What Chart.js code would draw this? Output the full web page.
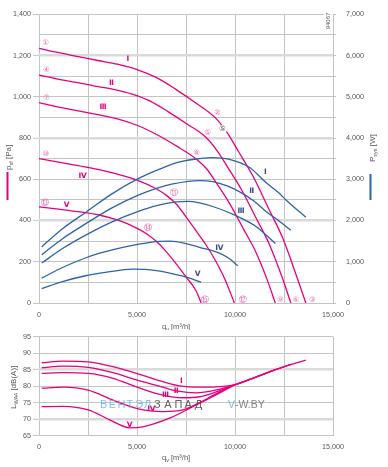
<!DOCTYPE html>
<html>
<head>
<meta charset="utf-8">
<script src="https://cdn.jsdelivr.net/npm/chart.js@4"></script>
<style>
  html, body { margin: 0; padding: 0; background: #fff; }
  #wrap { position: relative; width: 388px; height: 467px; }
  #top { position: absolute; left: 0; top: 0; }
  #bot { position: absolute; left: 0; top: 330px; }
</style>
</head>
<body>
<div id="wrap">
  <canvas id="top" width="388" height="330"></canvas>
  <canvas id="bot" width="388" height="137"></canvas>
</div>
<script>
// fan pressure curves p_sf [Pa] over q_v [m3/h]
const pressI = [[0,1235],[1000,1214],[2000,1195],[3000,1176],[4000,1158],[5000,1132],[6000,1093],[7000,1035],[8000,970],[9000,898],[9600,826],[10200,731],[10900,618],[11750,451],[12430,316],[13100,142],[13615,0]];
const pressII = [[0,1105],[950,1086],[1900,1070],[2850,1052],[3800,1036],[4750,1013],[5700,978],[6600,927],[7550,868],[8500,805],[9100,737],[9670,652],[10310,553],[11120,404],[11760,283],[12400,126],[12850,0]];
const pressIII = [[0,972],[1000,950],[2000,932],[3000,914],[4000,893],[5000,862],[6000,817],[7000,762],[8000,700],[8550,651],[9090,576],[9690,488],[10450,356],[11050,250],[11650,111],[12055,0]];
const pressIV = [[0,700],[1000,683],[2000,666],[3000,648],[4000,625],[5000,596],[6000,553],[6500,522],[7000,480],[7500,418],[8000,352],[8500,285],[9000,206],[9500,112],[9970,0]];
const pressV = [[0,466],[1000,455],[2000,443],[3000,428],[4000,403],[4500,385],[5000,362],[5500,335],[6000,298],[6500,248],[7000,190],[7500,127],[8000,62],[8275,0]];

// system power P_sys [W]
const powI = [[140,1365],[1200,1800],[2430,2214],[3700,2640],[5035,3008],[6150,3246],[7170,3420],[8190,3500],[8870,3524],[9710,3484],[10730,3290],[11580,2920],[12260,2660],[12600,2500],[13615,2079]];
const powII = [[140,1167],[1200,1560],[2430,1936],[3700,2300],[5035,2612],[6000,2780],[6830,2888],[8190,2969],[8870,2945],[9600,2840],[10220,2700],[11000,2460],[11580,2220],[12250,1990],[12850,1762]];
const powIII = [[140,969],[1200,1320],[2430,1659],[3700,1960],[5035,2214],[6000,2360],[7000,2450],[7600,2465],[8190,2430],[8870,2340],[9970,2135],[11070,1857],[12055,1445]];
const powIV = [[140,603],[1200,860],[2430,1103],[3100,1207],[4000,1320],[5035,1421],[6000,1490],[6700,1500],[7500,1440],[8190,1350],[9200,1210],[9700,1080],[10140,905]];
const powV = [[140,349],[1200,520],[2430,667],[3100,722],[4000,785],[4800,822],[5400,815],[6000,785],[6500,745],[7340,650],[8275,507]];

// sound power L_WA4 [dB(A)]
const noiseI = [[140,87.1],[1240,87.6],[2510,87.4],[3780,85.9],[4970,83.9],[6320,81.4],[7170,80.1],[8190,79.7],[9000,79.8],[9970,80.4],[11000,82.6],[12000,84.9],[12430,85.8],[13615,87.9]];
const noiseII = [[140,85.6],[1240,86.1],[2510,85.7],[3780,84.1],[4970,81.9],[6320,79.7],[7090,78.5],[8020,78.0],[9000,78.8],[9970,80.4],[11000,82.6],[12000,84.9],[12850,86.6]];
const noiseIII = [[140,83.9],[1240,84.1],[2510,83.9],[3780,82.4],[4970,79.8],[6320,77.3],[7340,76.5],[8190,76.8],[9000,78.2],[9970,80.4],[11000,82.6],[12055,85.0]];
const noiseIV = [[140,79.4],[1240,79.7],[2510,78.8],[3780,75.8],[4970,73.3],[6320,72.3],[7340,72.8],[8190,75.0],[9000,77.6],[9970,80.4]];
const noiseV = [[140,73.8],[1240,73.9],[2510,72.8],[3610,69.8],[4630,67.4],[5300,67.7],[6660,70.3],[8020,74.3],[9000,77.3],[9970,80.4]];

// heavier grid lines
const thickPress = [400, 800, 1200];
const thickNoise = [70, 85];

// annotations: [text, q, value]
const circledMarks = [["①",340,1263],["④",370,1130],["⑦",370,994],["⑩",355,720],["⑬",290,487],
  ["②",9100,919],["⑤",8600,824],["⑧",8040,729],["⑪",6870,533],["⑭",5560,363],
  ["⑮",8490,14],["⑫",10390,14],["⑨",12310,14],["⑥",13110,14],["③",13950,14]];
const pressNames = [["Ⅰ",4540,1181],["Ⅱ",3700,1067],["Ⅲ",3270,948],["Ⅳ",2220,618],["Ⅴ",1410,475]];
const powNames = [["Ⅰ",11545,3183],["Ⅱ",10850,2707],["Ⅲ",10310,2231],["Ⅳ",9206,1333],["Ⅴ",8100,707]];
const noiseNames = [["Ⅰ",7260,81.7],["Ⅱ",7000,78.6],["Ⅲ",6460,77.3],["Ⅳ",5730,73.1],["Ⅴ",4630,68.2]];

const pink = "#e6007e";
const blue = "#2f62ad";
const grey = "#555";
const gridThin = "#c4c4c4";
const gridThick = "#dadada";
const tickFont = { family: "Liberation Sans", size: 7.2 };
const fam = '"Liberation Sans", Arial, sans-serif';

function fmt(v) { return v.toLocaleString("en-US"); }

function line(arr, axis, color) {
  return {
    data: arr.map(([x, y]) => ({ x, y })),
    yAxisID: axis,
    borderColor: color,
    borderWidth: 1.3,
    pointRadius: 0,
    fill: false,
    cubicInterpolationMode: "monotone"
  };
}

// text with a subscript part, optionally rotated
function subText(ctx, parts, x, y, angle) {
  ctx.save();
  ctx.translate(x, y);
  ctx.rotate(angle);
  ctx.textAlign = "left";
  ctx.textBaseline = "alphabetic";
  let cx = 0;
  parts.forEach(([t, size, dy]) => {
    ctx.font = size + "px " + fam;
    ctx.fillText(t, cx, dy);
    cx += ctx.measureText(t).width;
  });
  ctx.restore();
}

function xAxis(h, pad) {
  return {
    type: "linear", min: 0, max: 15000,
    afterFit: (s) => { s.height = h; },
    ticks: { stepSize: 2500, autoSkip: false, maxRotation: 0, padding: pad, font: tickFont, color: grey,
      callback: (v) => (v % 5000 === 0 ? fmt(v) : "") },
    grid: { color: gridThin, lineWidth: 1, drawTicks: false },
    border: { display: false }
  };
}

const common = {
  animation: false,
  responsive: false,
  maintainAspectRatio: false,
  events: [],
  plugins: { legend: { display: false }, tooltip: { enabled: false } }
};

const topDecor = {
  id: "topDecor",
  afterDatasetsDraw(chart) {
    const { ctx, scales: { x, yP, yW } } = chart;
    ctx.save();
    ctx.textAlign = "center";
    ctx.textBaseline = "middle";

    ctx.font = '7.5px "DejaVu Sans"';
    ctx.fillStyle = "#f064aa";
    circledMarks.forEach(([t, q, v]) => ctx.fillText(t, x.getPixelForValue(q), yP.getPixelForValue(v)));

    // operating point mark on curve I
    const ox = x.getPixelForValue(9360), oy = yP.getPixelForValue(842);
    ctx.fillStyle = "#fff";
    ctx.beginPath(); ctx.arc(ox, oy, 4.5, 0, Math.PI * 2); ctx.fill();
    ctx.fillStyle = "#444";
    ctx.fillText("⑤", ox, oy);

    ctx.font = 'bold 7.5px "DejaVu Sans"';
    ctx.fillStyle = pink;
    pressNames.forEach(([t, q, v]) => ctx.fillText(t, x.getPixelForValue(q), yP.getPixelForValue(v)));
    ctx.fillStyle = "#3a4a96";
    powNames.forEach(([t, q, v]) => ctx.fillText(t, x.getPixelForValue(q), yW.getPixelForValue(v)));

    // axis titles
    ctx.fillStyle = grey;
    subText(ctx, [["p", 8, 0], ["sf", 5.5, 2], [" [Pa]", 8, 0]], 11, 170, -Math.PI / 2);
    subText(ctx, [["P", 8, 0], ["sys", 5.5, 2], [" [W]", 8, 0]], 374.5, 162, -Math.PI / 2);
    subText(ctx, [["q", 7.5, 0], ["v", 5.5, 2], [" [m³/h]", 7.5, 0]], 162, 328.5, 0);
    ctx.fillStyle = pink;
    ctx.fillRect(6.5, 172, 2, 28);
    ctx.fillStyle = blue;
    ctx.fillRect(369.5, 174, 2, 26);

    // drawing number
    ctx.fillStyle = "#fff";
    ctx.fillRect(324, 10, 8.5, 22);
    ctx.fillStyle = grey;
    ctx.save();
    ctx.translate(328.5, 21);
    ctx.rotate(-Math.PI / 2);
    ctx.font = "6px " + fam;
    ctx.fillText("94067", 0, 0);
    ctx.restore();
    ctx.restore();
  }
};

const botDecor = {
  id: "botDecor",
  afterDatasetsDraw(chart) {
    const { ctx, scales: { x, y } } = chart;
    ctx.save();
    ctx.textAlign = "center";
    ctx.textBaseline = "middle";
    ctx.font = 'bold 7.5px "DejaVu Sans"';
    ctx.fillStyle = pink;
    noiseNames.forEach(([t, q, v]) => ctx.fillText(t, x.getPixelForValue(q), y.getPixelForValue(v)));

    // watermark
    ctx.textAlign = "left";
    ctx.font = "11px " + fam;
    ctx.fillStyle = "rgba(90,170,225,0.75)";
    "ВЕНТЭЛ".split("").forEach((c, i) => ctx.fillText(c, 100 + i * 8.8, 75));
    ctx.fillStyle = "rgba(70,70,70,0.85)";
    "ЗАПАД".split("").forEach((c, i) => ctx.fillText(c, 154 + i * 10.2, 75));
    ctx.font = "10.5px " + fam;
    ctx.fillStyle = "rgba(90,170,225,0.8)";
    ctx.fillText("V", 228, 75);
    ctx.fillStyle = "rgba(110,110,110,0.85)";
    ctx.fillText("-W.BY", 235, 75);

    ctx.fillStyle = grey;
    subText(ctx, [["L", 8, 0], ["WA4", 5.5, 2], [" [dB(A)]", 8, 0]], 16, 79, -Math.PI / 2);
    subText(ctx, [["q", 7.5, 0], ["v", 5.5, 2], [" [m³/h]", 7.5, 0]], 162, 129.5, 0);
    ctx.restore();
  }
};

new Chart(document.getElementById("top"), {
  type: "line",
  data: {
    datasets: [
      line(powI, "yW", blue), line(powII, "yW", blue), line(powIII, "yW", blue), line(powIV, "yW", blue), line(powV, "yW", blue),
      line(pressI, "yP", pink), line(pressII, "yP", pink), line(pressIII, "yP", pink), line(pressIV, "yP", pink), line(pressV, "yP", pink)
    ]
  },
  options: {
    ...common,
    layout: { padding: { top: 9, left: 0, right: 0, bottom: 0 } },
    scales: {
      x: xAxis(27, 7.5),
      yP: {
        position: "left", min: 0, max: 1400,
        afterFit: (s) => { s.width = 39; },
        ticks: { stepSize: 100, autoSkip: false, padding: 2, font: tickFont, color: grey,
          callback: (v) => (v % 200 === 0 ? fmt(v) : "") },
        grid: {
          color: (c) => (thickPress.includes(c.tick.value) ? gridThick : gridThin),
          lineWidth: (c) => (thickPress.includes(c.tick.value) ? 2.6 : 1),
          drawTicks: true, tickLength: 6, tickWidth: 1,
          tickColor: (c) => (c.tick.value % 200 === 0 ? gridThin : "rgba(0,0,0,0)")
        },
        border: { display: false }
      },
      yW: {
        position: "right", min: 0, max: 7000,
        afterFit: (s) => { s.width = 55; },
        ticks: { stepSize: 500, autoSkip: false, padding: 10, font: tickFont, color: grey,
          callback: (v) => (v % 1000 === 0 ? fmt(v) : "") },
        grid: { drawOnChartArea: false, drawTicks: true, tickLength: 3, color: gridThin, lineWidth: 1 },
        border: { display: false }
      }
    }
  },
  plugins: [topDecor]
});

new Chart(document.getElementById("bot"), {
  type: "line",
  data: {
    datasets: [
      line(noiseI, "y", pink), line(noiseII, "y", pink), line(noiseIII, "y", pink), line(noiseIV, "y", pink), line(noiseV, "y", pink)
    ]
  },
  options: {
    ...common,
    layout: { padding: { top: 6.7, left: 0, right: 55, bottom: 0 } },
    scales: {
      x: xAxis(31.3, 7),
      y: {
        position: "left", min: 65, max: 95,
        afterFit: (s) => { s.width = 39; },
        ticks: { stepSize: 5, autoSkip: false, padding: 2, font: tickFont, color: grey },
        grid: {
          color: (c) => (thickNoise.includes(c.tick.value) ? gridThick : gridThin),
          lineWidth: (c) => (thickNoise.includes(c.tick.value) ? 2.6 : 1),
          drawTicks: true, tickLength: 6, tickWidth: 1, tickColor: gridThin
        },
        border: { display: false }
      }
    }
  },
  plugins: [botDecor]
});
</script>
</body>
</html>
